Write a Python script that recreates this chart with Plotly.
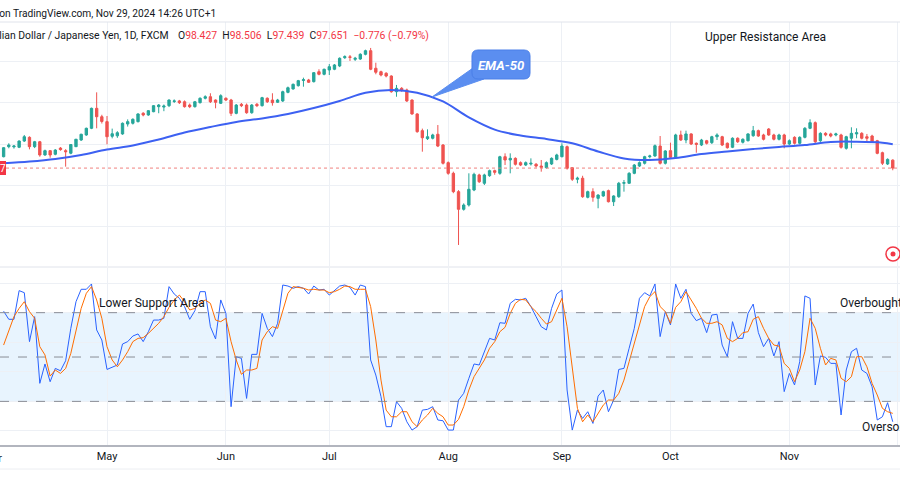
import plotly.graph_objects as go
import pandas as pd

W, H = 900, 500

# ---------------- data ----------------
dates = pd.bdate_range("2024-04-03", "2024-11-29")  # daily trading sessions

opens = [98.76, 99.74, 99.72, 99.68, 100.29, 100.65, 99.74, 100.22, 98.93, 99.35,
         99.00, 99.60, 99.35, 99.10, 99.74, 100.39, 100.88, 101.53, 103.48, 102.66,
         102.18, 100.75, 100.80, 100.98, 101.95, 102.02, 102.18, 103.00, 102.83, 103.15,
         103.64, 103.60, 103.74, 104.15, 104.20, 104.12, 103.80, 103.64, 104.03, 104.46,
         104.61, 104.29, 103.97, 104.46, 104.29, 102.99, 103.87, 103.80, 103.05, 103.87,
         103.74, 104.46, 104.29, 104.07, 104.20, 105.04, 105.37, 105.69, 106.20, 106.24,
         106.08, 107.05, 106.80, 107.22, 107.29, 107.61, 108.42, 108.50, 108.26, 108.29,
         108.75, 109.10, 107.39, 107.05, 106.90, 106.63, 105.10, 105.43, 105.27, 104.29,
         102.93, 101.30, 100.52, 100.56, 100.95, 99.90, 98.18, 97.14, 95.35, 93.63,
         94.05, 95.51, 96.98, 96.17, 96.91, 97.40, 97.14, 98.76, 98.44, 98.60,
         98.18, 97.95, 98.05, 98.02, 97.85, 97.69, 98.05, 98.50, 98.76, 99.74,
         97.69, 96.56, 96.66, 94.80, 95.35, 94.70, 94.93, 95.45, 94.37, 94.86,
         96.17, 96.17, 97.14, 97.85, 98.12, 98.76, 98.83, 99.80, 98.12, 99.35,
         98.70, 100.88, 100.39, 100.98, 100.07, 99.90, 100.32, 100.13, 100.71, 100.71,
         100.07, 99.68, 100.56, 100.17, 100.32, 100.81, 101.30, 100.88, 101.46, 100.88,
         100.46, 100.88, 100.00, 100.65, 100.07, 100.65, 101.53, 102.08, 100.32, 101.04,
         100.98, 100.88, 100.88, 99.58, 100.56, 100.98, 101.04, 100.71, 100.78, 100.32,
         99.15, 98.05, 98.427]
highs = [99.70, 100.07, 99.90, 100.35, 100.88, 100.75, 100.30, 100.30, 99.45, 99.40,
         99.50, 99.70, 99.50, 100.00, 100.50, 101.00, 101.60, 103.55, 105.04, 102.85,
         102.73, 101.50, 101.25, 102.10, 102.40, 102.50, 103.00, 103.10, 103.30, 103.80,
         103.90, 103.85, 104.35, 104.35, 104.30, 104.25, 103.95, 104.20, 104.55, 104.75,
         104.95, 104.35, 104.85, 104.55, 104.40, 103.90, 104.00, 103.95, 103.90, 104.00,
         104.60, 104.55, 104.95, 104.40, 105.20, 105.60, 105.90, 106.25, 106.47, 106.35,
         107.00, 107.29, 107.35, 107.80, 107.80, 108.45, 108.65, 108.68, 108.50, 108.85,
         109.20, 109.37, 107.93, 107.15, 107.00, 106.70, 105.76, 105.55, 105.40, 104.35,
         103.00, 101.50, 101.43, 101.00, 101.85, 100.00, 98.30, 97.30, 95.50, 94.21,
         97.14, 97.20, 97.10, 97.10, 97.50, 97.50, 98.85, 99.09, 99.09, 98.70,
         98.30, 98.30, 98.60, 98.15, 98.44, 98.30, 98.70, 99.05, 100.07, 99.85,
         97.75, 96.81, 96.90, 95.45, 95.68, 95.10, 95.45, 95.55, 95.00, 96.30,
         96.49, 97.25, 98.05, 98.30, 98.85, 98.95, 99.95, 100.78, 99.40, 100.13,
         101.00, 101.30, 101.30, 101.05, 100.15, 100.50, 100.40, 100.80, 101.04, 100.80,
         100.15, 100.65, 100.65, 100.55, 101.05, 101.76, 101.40, 101.00, 101.55, 101.00,
         101.00, 101.00, 100.45, 100.75, 100.75, 101.65, 102.41, 102.20, 101.15, 101.15,
         101.10, 101.10, 101.00, 100.80, 101.63, 101.53, 101.15, 100.98, 100.90, 100.40,
         99.25, 98.60, 98.506]
lows = [98.70, 99.58, 99.55, 99.60, 100.20, 99.48, 99.60, 98.76, 98.85, 98.66,
        98.90, 99.35, 97.79, 99.00, 99.70, 100.30, 100.80, 101.45, 101.53, 102.00,
        99.97, 100.55, 100.60, 100.90, 101.70, 101.90, 102.10, 102.70, 102.75, 103.10,
        103.00, 103.20, 103.60, 104.00, 103.90, 103.55, 103.50, 103.55, 103.95, 104.35,
        104.00, 103.48, 103.90, 104.20, 102.73, 102.90, 103.60, 102.95, 102.95, 103.60,
        103.65, 104.00, 103.74, 104.00, 104.10, 104.95, 105.30, 105.60, 105.59, 105.95,
        106.00, 106.70, 106.70, 106.73, 107.20, 107.50, 108.30, 108.10, 108.10, 108.20,
        108.65, 107.20, 106.80, 106.60, 106.50, 105.00, 104.61, 105.10, 104.10, 102.85,
        101.10, 99.25, 100.39, 100.45, 99.70, 98.00, 97.00, 95.20, 90.15, 93.50,
        93.90, 95.40, 96.20, 96.00, 96.80, 97.00, 97.00, 97.95, 97.14, 97.90,
        97.85, 97.85, 97.90, 97.70, 97.30, 97.60, 97.95, 98.40, 98.70, 97.50,
        96.40, 96.17, 94.75, 94.70, 94.37, 93.73, 94.85, 94.30, 93.95, 94.75,
        95.35, 96.10, 97.05, 97.75, 98.00, 98.60, 98.75, 98.00, 98.00, 98.60,
        98.60, 100.30, 100.07, 99.90, 99.15, 99.80, 99.95, 100.00, 100.39, 99.80,
        99.55, 99.60, 100.10, 100.05, 100.25, 100.70, 100.70, 100.35, 100.80, 100.35,
        100.35, 99.58, 99.90, 99.95, 99.95, 100.55, 101.45, 100.10, 100.20, 100.75,
        100.65, 100.75, 99.55, 99.45, 99.58, 100.56, 100.45, 100.13, 100.10, 99.00,
        97.95, 97.95, 97.439]
closes = [99.64, 99.90, 99.80, 100.29, 100.71, 99.74, 100.22, 98.93, 99.35, 98.93,
          99.41, 99.45, 99.25, 99.95, 100.46, 100.95, 101.53, 103.48, 102.66, 102.20,
          100.71, 101.00, 101.10, 102.02, 102.18, 102.41, 102.93, 102.83, 103.25, 103.74,
          103.80, 103.70, 104.29, 104.20, 104.03, 103.64, 103.64, 104.12, 104.46, 104.61,
          104.12, 104.07, 104.71, 104.29, 102.99, 103.80, 103.74, 103.05, 103.80, 103.74,
          104.52, 104.12, 104.03, 104.29, 105.10, 105.49, 105.82, 106.18, 106.27, 106.02,
          106.96, 106.80, 107.29, 107.54, 107.71, 108.36, 108.52, 108.45, 108.36, 108.75,
          109.10, 107.29, 107.00, 106.73, 106.63, 105.10, 105.43, 105.27, 104.20, 102.93,
          101.20, 100.61, 100.71, 100.88, 99.80, 98.12, 97.14, 95.35, 93.63, 94.05,
          95.58, 97.04, 96.32, 96.98, 97.40, 97.24, 98.76, 98.44, 98.60, 98.02,
          97.95, 98.18, 98.12, 97.85, 97.72, 98.18, 98.60, 98.93, 99.80, 97.63,
          96.56, 96.66, 94.86, 95.35, 94.80, 95.02, 95.35, 94.37, 94.93, 96.17,
          96.23, 97.14, 97.95, 98.18, 98.76, 98.83, 99.83, 98.12, 99.32, 98.70,
          100.88, 100.39, 100.98, 100.00, 99.97, 100.39, 100.07, 100.71, 100.88, 99.90,
          99.64, 100.56, 100.22, 100.46, 100.98, 101.30, 100.78, 100.46, 100.88, 100.46,
          100.88, 100.00, 100.32, 100.07, 100.65, 101.53, 102.08, 100.22, 101.04, 100.88,
          100.78, 100.98, 99.68, 100.71, 101.04, 101.10, 100.56, 100.56, 100.22, 99.09,
          98.12, 98.50, 97.651]

# EMA-50 read at every 5th session
ema_idx = [0, 5, 10, 15, 20, 25, 30, 35, 40, 45, 50, 55, 60, 65, 70, 75, 80, 85,
           90, 95, 100, 105, 110, 115, 120, 125, 130, 135, 140, 145, 150, 155, 160,
           165, 170, 172]
ema_vals = [98.12, 98.29, 98.54, 98.93, 99.46, 99.85, 100.44, 101.12, 101.66, 102.15,
            102.49, 102.93, 103.51, 104.20, 105.00, 105.27, 105.00, 104.15, 102.59, 101.40,
            100.83, 100.49, 100.07, 99.27, 98.59, 98.44, 98.63, 99.02, 99.27, 99.51,
            99.71, 99.90, 100.20, 100.22, 100.13, 99.97]

stoch_k = [81.0, 75.5, 75.5, 94.9, 93.5, 60.4, 77.3, 32.2, 45.3, 33.3,
           42.3, 40.7, 47.5, 69.4, 87.4, 95.8, 95.8, 99.4, 68.3, 61.5,
           41.6, 43.0, 44.6, 58.8, 60.4, 64.2, 65.6, 60.4, 67.1, 75.0,
           75.0, 76.2, 97.6, 92.6, 89.7, 84.1, 75.5, 81.3, 94.2, 94.2,
           70.5, 62.2, 88.6, 79.5, 16.4, 50.2, 49.1, 22.0, 51.8, 51.8,
           79.5, 69.4, 63.8, 72.8, 98.7, 98.0, 96.5, 97.6, 96.5, 92.6,
           98.0, 95.3, 95.8, 91.9, 94.9, 98.0, 98.7, 97.1, 91.9, 98.7,
           97.6, 48.0, 37.8, 23.2, 2.9, 2.9, 19.8, 15.3, 6.2, 0.6,
           2.9, 14.1, 14.6, 16.4, 7.4, 6.9, 0.6,
           0.6, 20.9, 25.4, 35.6, 45.3, 44.6, 53.6, 62.6, 61.5, 73.2,
           72.8, 86.3, 89.0, 88.6, 89.7, 84.1, 77.3, 70.5, 68.3, 82.9,
           92.6, 95.3, 27.7, 0.6, 14.1, 8.5, 13.0, 5.1, 23.6, 27.7,
           13.0, 20.9, 41.6, 42.3, 55.9, 69.4, 89.7, 93.5, 91.3, 99.4,
           63.8, 80.7, 71.7, 99.4, 89.7, 95.8, 79.5, 74.6, 76.2, 66.5,
           78.4, 78.9, 58.1, 50.2, 73.9, 62.6, 62.6, 79.5, 85.8, 66.5,
           57.0, 62.6, 50.7, 60.4, 26.6, 38.9, 31.1, 46.8, 91.3, 89.7,
           31.1, 50.7, 49.8, 45.7, 45.7, 10.8, 41.2, 53.6, 55.9, 41.2,
           38.9, 29.9, 7.4, 9.6, 19.1, 6.2]
stoch_d = [58.1, 68.3, 77.3, 82.9, 87.4, 80.7, 76.2, 57.0, 51.4, 37.1,
           41.2, 38.9, 42.3, 52.5, 68.3, 82.9, 93.1, 97.6, 88.6, 76.2,
           57.0, 48.0, 43.4, 48.0, 53.6, 60.4, 62.6, 63.1, 66.0, 69.4,
           72.8, 77.3, 83.6, 88.6, 91.9, 87.4, 81.8, 82.9, 86.3, 88.6,
           86.3, 75.0, 73.9, 76.2, 60.4, 48.0, 38.3, 41.2, 41.2, 42.3,
           61.5, 67.1, 70.5, 69.4, 81.8, 93.1, 97.6, 97.1, 96.5, 95.3,
           95.8, 95.3, 95.3, 93.5, 94.2, 95.8, 98.0, 97.6, 95.8, 95.8,
           95.8, 84.1, 61.5, 34.4, 14.1, 9.6, 9.6, 13.0, 13.0, 6.2,
           2.9, 7.4, 10.8, 15.3, 11.9, 9.6, 4.0,
           4.0, 7.8, 16.4, 27.7, 36.7, 42.3, 48.0, 55.9, 60.4, 67.1,
           70.1, 79.5, 86.3, 89.0, 88.6, 84.1, 80.7, 76.2, 72.3, 73.9,
           81.8, 89.7, 70.5, 41.2, 15.3, 6.2, 10.8, 6.2, 11.9, 17.5,
           20.9, 20.9, 25.4, 34.4, 46.8, 59.2, 71.7, 84.1, 90.8, 94.2,
           84.1, 80.7, 72.8, 83.6, 87.4, 94.2, 88.6, 82.9, 76.2, 72.8,
           72.8, 73.9, 71.7, 62.6, 60.4, 62.6, 66.5, 67.1, 75.5, 77.3,
           69.4, 62.6, 58.1, 57.4, 45.7, 42.3, 33.3, 41.2, 53.6, 76.2,
           69.4, 55.9, 44.6, 49.1, 48.0, 35.6, 33.3, 36.7, 50.2, 50.2,
           43.4, 32.2, 24.3, 15.3, 13.0, 11.9]

month_ticks = ["2024-05-01", "2024-06-03", "2024-07-01", "2024-08-01",
               "2024-09-02", "2024-10-01", "2024-11-01", "2024-12-02"]
month_labels = ["May", "Jun", "Jul", "Aug", "Sep", "Oct", "Nov", "Dec"]

last_price = 97.651
stoch_levels = [20, 50, 80]

# ---------------- styling ----------------
UP, DOWN = "#26a69a", "#ef5350"
GRID = "#edf0f5"
TXT = "#131722"
FONT = "Roboto"


def px(x):
    return x / W


def py(y):
    return 1 - y / H


fig = go.Figure()
fig.add_trace(go.Candlestick(
    x=dates, open=opens, high=highs, low=lows, close=closes,
    increasing=dict(line=dict(color=UP, width=1), fillcolor=UP),
    decreasing=dict(line=dict(color=DOWN, width=1), fillcolor=DOWN),
    whiskerwidth=0, xaxis="x", yaxis="y", showlegend=False, hoverinfo="skip"))
fig.add_trace(go.Scatter(
    x=[dates[i] for i in ema_idx], y=ema_vals, mode="lines",
    line=dict(color="#3d61f2", width=2, shape="spline", smoothing=1.0),
    xaxis="x", yaxis="y", showlegend=False, hoverinfo="skip"))
fig.add_trace(go.Scatter(
    x=dates, y=stoch_k, mode="lines", line=dict(color="#2962ff", width=1),
    xaxis="x2", yaxis="y2", showlegend=False, hoverinfo="skip"))
fig.add_trace(go.Scatter(
    x=dates, y=stoch_d, mode="lines", line=dict(color="#ff6d00", width=1),
    xaxis="x2", yaxis="y2", showlegend=False, hoverinfo="skip"))

xr = ["2024-04-02 07:12", "2024-12-02 09:36"]
common_x = dict(type="date", range=xr, rangebreaks=[dict(bounds=["sat", "mon"])],
                tickmode="array", tickvals=month_ticks, ticktext=month_labels,
                showgrid=True, gridcolor=GRID, gridwidth=1, zeroline=False,
                fixedrange=True, rangeslider=dict(visible=False), domain=[0, 1])

fig.update_layout(
    width=W, height=H, margin=dict(l=0, r=0, t=0, b=0),
    paper_bgcolor="white", plot_bgcolor="white", showlegend=False,
    font=dict(family=FONT, color=TXT),
    boxgap=0.35,
    xaxis=dict(**common_x, anchor="y", showticklabels=False),
    yaxis=dict(domain=[py(266), py(22)], range=[88.10, 111.90], dtick=4, tick0=0,
               showticklabels=False, showgrid=True, gridcolor=GRID, zeroline=False,
               fixedrange=True),
    xaxis2=dict(**common_x, anchor="y2", matches="x", showticklabels=True, ticks="",
                tickfont=dict(family=FONT, size=11, color=TXT),
                showline=True, linecolor="#b2b5be", linewidth=2),
    yaxis2=dict(domain=[py(445), py(268)], range=[-9.5, 110.2],
                tickvals=[0, 20, 40, 60, 80, 100], showticklabels=False,
                showgrid=True, gridcolor=GRID, zeroline=False, fixedrange=True),
)

shapes = []
# header / pane separators
for yy, col in [(22, "#e0e3eb"), (267, "#e0e3eb"), (469, "#eceef2")]:
    shapes.append(dict(type="line", xref="paper", yref="paper", x0=0, x1=1,
                       y0=py(yy), y1=py(yy), line=dict(color=col, width=1)))
# stochastic band
shapes.append(dict(type="rect", xref="paper", yref="y2", x0=0, x1=1,
                   y0=stoch_levels[0], y1=stoch_levels[2],
                   fillcolor="rgba(33,150,243,0.1)", line=dict(width=0), layer="below"))
for lv in stoch_levels:
    shapes.append(dict(type="line", xref="paper", yref="y2", x0=0, x1=1, y0=lv, y1=lv,
                       line=dict(color="#8a8d96", width=1, dash="dash")))
# last price dotted line
shapes.append(dict(type="line", xref="paper", yref="y", x0=0, x1=1,
                   y0=last_price, y1=last_price,
                   line=dict(color="#f0817f", width=1, dash="dot")))
# left price label (cut)
shapes.append(dict(type="rect", xref="paper", yref="paper", x0=px(-20), x1=px(6),
                   y0=py(175), y1=py(161), fillcolor="#f23645", line=dict(width=0)))


def pth(pts, close=True):
    s = "M " + " L ".join(f"{px(a):.5f},{py(b):.5f}" for a, b in pts)
    return s + (" Z" if close else "")


# EMA-50 callout: rounded box + pointer
bx0, bx1, by0, by1, r = 472, 530, 50, 79, 6
box = (f"M {px(bx0 + r):.5f},{py(by0):.5f} L {px(bx1 - r):.5f},{py(by0):.5f} "
       f"Q {px(bx1):.5f},{py(by0):.5f} {px(bx1):.5f},{py(by0 + r):.5f} "
       f"L {px(bx1):.5f},{py(by1 - r):.5f} "
       f"Q {px(bx1):.5f},{py(by1):.5f} {px(bx1 - r):.5f},{py(by1):.5f} "
       f"L {px(bx0 + r):.5f},{py(by1):.5f} "
       f"Q {px(bx0):.5f},{py(by1):.5f} {px(bx0):.5f},{py(by1 - r):.5f} "
       f"L {px(bx0):.5f},{py(by0 + r):.5f} "
       f"Q {px(bx0):.5f},{py(by0):.5f} {px(bx0 + r):.5f},{py(by0):.5f} Z")
shapes.append(dict(type="path", xref="paper", yref="paper",
                   path=pth([(432, 97), (473, 68), (484, 79)]),
                   fillcolor="#5b8ef0", line=dict(color="#5b8ef0", width=1)))
shapes.append(dict(type="path", xref="paper", yref="paper", path=box,
                   fillcolor="#5b8ef0", line=dict(color="#4a7fe8", width=1)))
# red circle icon
shapes.append(dict(type="circle", xref="paper", yref="paper", x0=px(886), x1=px(900),
                   y0=py(261), y1=py(247), line=dict(color="#f23645", width=1.5)))
shapes.append(dict(type="circle", xref="paper", yref="paper", x0=px(890.5), x1=px(895.5),
                   y0=py(256.5), y1=py(251.5), fillcolor="#f23645",
                   line=dict(color="#f23645", width=0)))
fig.update_layout(shapes=shapes)


def ann(text, x, y, size=12, color=TXT, xanchor="left", **kw):
    fig.add_annotation(text=text, x=px(x), y=py(y), xref="paper", yref="paper",
                       xanchor=xanchor, yanchor="middle", showarrow=False,
                       font=dict(family=FONT, size=size, color=color), **kw)


RED = "#f23645"
ann("Published on TradingView.com, Nov 29, 2024 14:26 UTC+1", 218, 13, size=10.2,
    xanchor="right")
ann("Australian Dollar / Japanese Yen, 1D, FXCM", 171, 36, size=10.4, xanchor="right")
ann(f"O<span style='color:{RED}'>98.427</span>  H<span style='color:{RED}'>98.506</span>"
    f"  L<span style='color:{RED}'>97.439</span>  C<span style='color:{RED}'>97.651</span>"
    f"  <span style='color:{RED}'>−0.776 (−0.79%)</span>", 176, 36, size=10.4)
ann("Upper Resistance Area", 703, 37, size=12)
ann("Lower Support Area", 97, 303, size=12)
ann("Overbought", 838, 303, size=12)
ann("Oversold", 860, 427, size=12)
ann("<b><i>EMA-50</i></b>", 501, 65, size=13, color="white", xanchor="center")
ann("7", 3, 168, size=10, color="white", xanchor="center")
ann("Apr", -7, 458, size=11, xanchor="center")

fig.write_html("out.html")
